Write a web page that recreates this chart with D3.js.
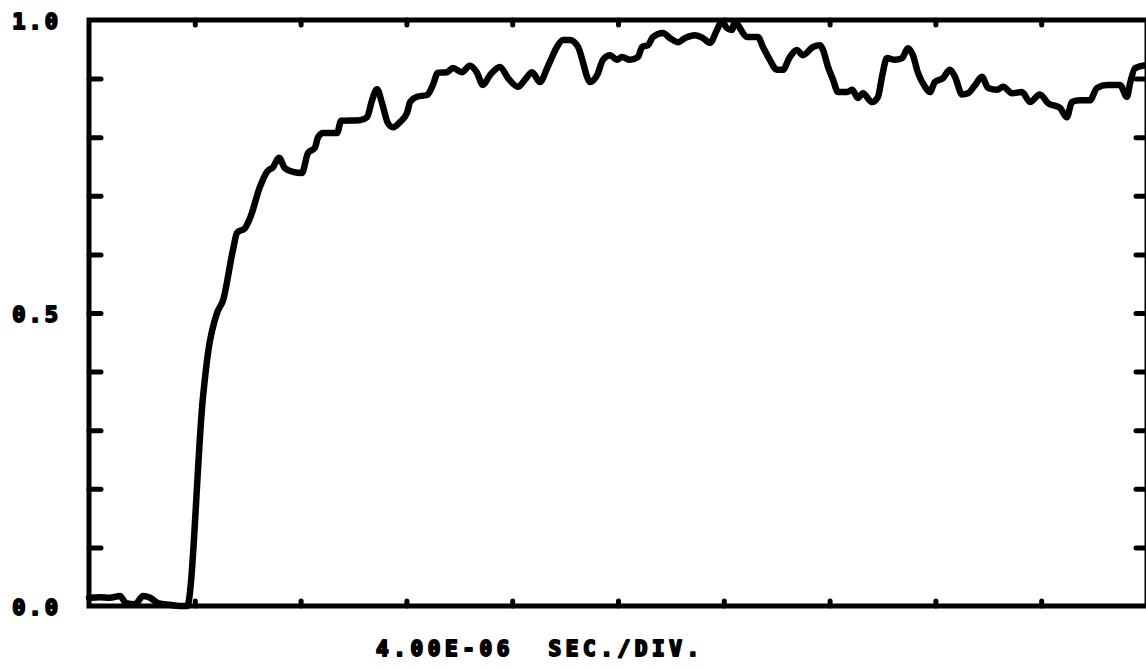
<!DOCTYPE html>
<html>
<head>
<meta charset="utf-8">
<script src="https://cdn.jsdelivr.net/npm/d3@7"></script>
<style>
  html, body { margin: 0; padding: 0; background: #fff; }
  svg { display: block; }
  .lbl { font-family: "DejaVu Sans Mono", monospace; font-weight: bold; fill: #000;
         stroke: #000; stroke-width: 2px; stroke-linejoin: round; }
</style>
</head>
<body>
<svg id="chart" width="1146" height="670"></svg>
<script>
// time in microseconds (4 us per division, 10 divisions)
const timeUs = [
    0.0, 0.42, 0.79, 1.17, 1.40, 1.74, 2.04, 2.31, 2.61, 3.06, 3.44, 3.71,
    4.31, 4.50, 4.84, 5.07, 5.44, 5.60, 5.90, 6.09, 6.46, 6.73, 6.96, 7.18,
    7.41, 7.71, 8.05, 8.28, 8.54, 8.66, 8.85, 9.38, 9.53, 10.24, 10.51, 10.70,
    10.89, 11.08, 11.30, 11.49, 11.76, 12.02, 12.14, 12.40, 12.78, 13.00, 13.19, 13.53,
    13.76, 14.10, 14.40, 14.67, 14.89, 15.16, 15.54, 15.84, 16.22, 16.48, 16.75, 17.05,
    17.32, 17.46, 17.69, 17.92, 18.18, 18.49, 18.68, 18.83, 18.94, 19.21, 19.43, 19.70,
    19.96, 20.15, 20.45, 20.76, 20.91, 21.13, 21.32, 21.70, 21.97, 22.27, 22.53, 22.91,
    23.21, 23.48, 23.74, 23.93, 24.12, 24.31, 24.42, 24.61, 24.87, 25.29, 25.48, 25.74,
    26.01, 26.23, 26.50, 26.76, 26.99, 27.37, 27.64, 27.75, 27.94, 28.13, 28.32, 28.66,
    28.85, 29.07, 29.26, 29.60, 29.83, 29.98, 30.17, 30.47, 30.74, 30.96, 31.15, 31.34,
    31.61, 31.79, 31.98, 32.29, 32.55, 32.74, 33.01, 33.23, 33.50, 33.76, 33.99, 34.33,
    34.56, 34.90, 35.27, 35.58, 35.95, 36.26, 36.71, 36.97, 37.16, 37.47, 37.84, 38.11,
    38.49, 38.98, 39.24, 39.36, 39.55, 39.97
]
const signal = [
    0.014, 0.015, 0.014, 0.017, 0.005, 0.003, 0.017, 0.014, 0.005, 0.002, 0.0, 0.0,
    0.357, 0.432, 0.500, 0.522, 0.607, 0.637, 0.645, 0.662, 0.715, 0.741, 0.749, 0.765,
    0.747, 0.741, 0.739, 0.773, 0.782, 0.800, 0.807, 0.807, 0.828, 0.829, 0.834, 0.863,
    0.882, 0.858, 0.824, 0.817, 0.826, 0.841, 0.860, 0.869, 0.872, 0.889, 0.910, 0.911,
    0.918, 0.911, 0.922, 0.910, 0.889, 0.906, 0.920, 0.901, 0.886, 0.898, 0.911, 0.894,
    0.918, 0.932, 0.954, 0.966, 0.966, 0.954, 0.927, 0.903, 0.894, 0.906, 0.932, 0.940,
    0.932, 0.937, 0.932, 0.937, 0.954, 0.957, 0.971, 0.978, 0.969, 0.962, 0.969, 0.974,
    0.969, 0.961, 0.983, 0.998, 0.986, 0.983, 0.998, 0.986, 0.971, 0.971, 0.954, 0.932,
    0.915, 0.915, 0.937, 0.949, 0.940, 0.954, 0.957, 0.949, 0.920, 0.898, 0.877, 0.877,
    0.881, 0.867, 0.875, 0.860, 0.869, 0.903, 0.935, 0.932, 0.935, 0.952, 0.940, 0.910,
    0.886, 0.877, 0.894, 0.901, 0.915, 0.903, 0.873, 0.875, 0.889, 0.903, 0.884, 0.881,
    0.886, 0.875, 0.877, 0.860, 0.873, 0.858, 0.850, 0.834, 0.860, 0.863, 0.863, 0.884,
    0.889, 0.889, 0.869, 0.892, 0.918, 0.923
]
const yTickLabels = { 0: "0.0", 0.5: "0.5", 1: "1.0" }
const xLabel = "4.00E-06  SEC./DIV."

const mLeft = 89, mRight = 1147, mTop = 20, mBottom = 606

const svg = d3.select('#chart')

const x = d3.scaleLinear()
    .domain([0, 40])
    .range([mLeft, mRight])

const y = d3.scaleLinear()
    .domain([0, 1])
    .range([mBottom, mTop])

const yTicks = d3.range(0, 11).map(i => i / 10)
const xTicks = d3.range(1, 10).map(i => i * 4)

// frame
svg.append('rect')
    .attr('x', mLeft)
    .attr('y', mTop)
    .attr('width', mRight - mLeft)
    .attr('height', mBottom - mTop)
    .attr('fill', 'none')
    .attr('stroke', '#000')
    .attr('stroke-width', 5)

const styleAxis = (g) => {
    g.select('.domain').remove()
    g.selectAll('.tick line')
        .attr('stroke', '#000')
        .attr('stroke-width', 5)
        .attr('stroke-linecap', 'round')
}

// left axis, ticks pointing in, labels far left
svg.append('g')
    .attr('transform', `translate(${mLeft},0)`)
    .call(d3.axisLeft(y)
        .tickValues(yTicks)
        .tickSizeInner(-12)
        .tickSizeOuter(0)
        .tickPadding(28)
        .tickFormat(d => yTickLabels[d] || ''))
    .call(styleAxis)
    .call(g => g.selectAll('.tick text')
        .attr('class', 'lbl')
        .style('font-size', '22px')
        .style('letter-spacing', '3px')
        .attr('dy', '0.38em'))
    .call(g => g.selectAll('.tick').filter(d => d === 0 || d === 1).select('line').remove())

// right axis
svg.append('g')
    .attr('transform', `translate(${mRight},0)`)
    .call(d3.axisRight(y)
        .tickValues(yTicks.slice(1, 10))
        .tickSizeInner(-11)
        .tickSizeOuter(0)
        .tickFormat(''))
    .call(styleAxis)

// bottom & top axes, small ticks
svg.append('g')
    .attr('transform', `translate(0,${mBottom})`)
    .call(d3.axisBottom(x)
        .tickValues(xTicks)
        .tickSizeInner(-5)
        .tickSizeOuter(0)
        .tickFormat(''))
    .call(styleAxis)

svg.append('g')
    .attr('transform', `translate(0,${mTop})`)
    .call(d3.axisTop(x)
        .tickValues(xTicks)
        .tickSizeInner(-5)
        .tickSizeOuter(0)
        .tickFormat(''))
    .call(styleAxis)

// the trace
const pts = timeUs.map((t, i) => [t, signal[i]])
const line = d3.line()
    .x(d => x(d[0]))
    .y(d => y(d[1]))
    .curve(d3.curveMonotoneX)

svg.append('path')
    .datum(pts)
    .attr('d', line)
    .attr('fill', 'none')
    .attr('stroke', '#000')
    .attr('stroke-width', 6.5)
    .attr('stroke-linejoin', 'round')
    .attr('stroke-linecap', 'round')

// x label
svg.append('text')
    .attr('class', 'lbl')
    .attr('x', 376)
    .attr('y', 656)
    .style('font-size', '21px')
    .style('letter-spacing', '4.6px')
    .style('white-space', 'pre')
    .attr('xml:space', 'preserve')
    .text(xLabel)
</script>
</body>
</html>
